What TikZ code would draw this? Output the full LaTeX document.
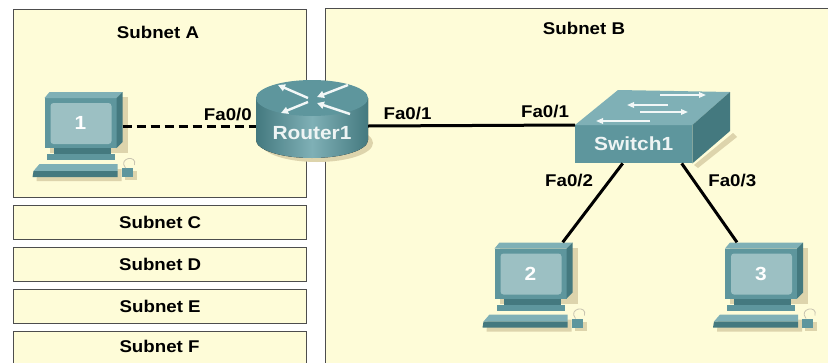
\documentclass[tikz,border=0pt]{standalone}
\usepackage{fontspec}
\usetikzlibrary{positioning,arrows.meta}
\newfontfamily\netfont{Liberation Sans}[FakeStretch=1.1]
\newcommand\subfont{\netfont\bfseries\fontsize{17}{20}\selectfont}
\newcommand\devfont{\netfont\bfseries\fontsize{19}{22}\selectfont}
\definecolor{cream}{HTML}{FEFCD8}
\definecolor{edgegray}{HTML}{4D4D4D}
\definecolor{tealmd}{HTML}{5E969D}
\definecolor{tealtop}{HTML}{7FB0B6}
\definecolor{tealdk}{HTML}{44797F}
\definecolor{screenteal}{HTML}{9CC0C3}
\definecolor{shadowtan}{HTML}{DDD4AC}
\definecolor{devwhite}{HTML}{EEF4F4}
\definecolor{arrowwhite}{HTML}{F2F7F7}
\definecolor{cablegray}{HTML}{C9C4B0}

\newcommand\pcicon[3]{%
	\begin{scope}[shift={(#2)}]
		\fill[shadowtan] (-34,-23) rectangle (44,33);
		\fill[shadowtan] (-46,49) -- (38,49) -- (38,61) -- (-47,61) -- cycle;
		\fill[shadowtan] (41,51) rectangle (53,60);
		\fill[tealmd] (-39,-22) rectangle (33,28);
		\fill[tealtop] (-39,-22) -- (-34,-28) -- (39,-28) -- (33,-22) -- cycle;
		\fill[tealdk] (33,-22) -- (39,-28) -- (39,22) -- (33,28) -- cycle;
		\fill[screenteal, rounded corners=3pt] (-33,-17) rectangle (28,24);
		\fill[tealdk] (-30,28) rectangle (27,34);
		\fill[tealmd] (-37,34) rectangle (31,40);
		\fill[tealtop] (-44,44) -- (34,44) -- (34,51) -- (-50,51) -- cycle;
		\fill[tealdk] (-50,51) -- (34,51) -- (34,57) -- (-51,57) -- cycle;
		\fill[tealmd] (38,48) rectangle (49,57);
		\draw[cable] (42,48) .. controls (34,38) and (54,34) .. (51,45);
		\node[pcnum] (#1-num) at (-3,3) {#3};
		\node[pcbox] (#1) at (0,0) {};
	\end{scope}}

\begin{document}
\begin{tikzpicture}[x=1pt, y=-1pt,
	subnet/.style={draw=edgegray, line width=1.4pt, fill=cream, inner sep=0pt, font=\subfont},
	subtitle/.style={font=\subfont, inner sep=1pt},
	portlbl/.style={font=\subfont, inner sep=1pt},
	devtext/.style={font=\devfont, text=devwhite, inner sep=0pt},
	pcbox/.style={minimum width=78pt, minimum height=56pt, inner sep=0pt},
	pcnum/.style={font=\devfont, text=white, inner sep=0pt},
	link/.style={line width=3pt},
	swarrow/.style={draw=arrowwhite, line width=1.6pt, -{Triangle[length=7pt, width=5.5pt]}},
	rtarrow/.style={draw=arrowwhite, line width=2.4pt, -{Triangle[length=7pt, width=7pt]}},
	cable/.style={draw=cablegray, line width=.8pt}]
	\useasboundingbox (0,0) rectangle (828,362);
	\clip (0,0) rectangle (828,362);
	\fill[white] (0,0) rectangle (828,362);

	\node[subnet, minimum width=293pt, minimum height=188pt, anchor=north west] (subA) at (13,9) {};
	\node[subnet, minimum width=520pt, minimum height=370pt, anchor=north west] (subB) at (325,8) {};
	\node[subnet, minimum width=293pt, minimum height=34pt, anchor=north west] (subC) at (13,205) {Subnet C};
	\node[subnet, minimum width=293pt, minimum height=34pt, anchor=north west] (subD) at (13,247) {Subnet D};
	\node[subnet, minimum width=293pt, minimum height=34pt, anchor=north west] (subE) at (13,289) {Subnet E};
	\node[subnet, minimum width=293pt, minimum height=40pt, anchor=north west] (subF) at (13,331) {};
	\node[subtitle] (labA) at (158,32) {Subnet A};
	\node[subtitle] (labB) at (584,28) {Subnet B};
	\node[subtitle] (labF) at (159.5,346) {Subnet F};

	\fill[shadowtan] (317,143) ellipse[x radius=56, y radius=19];
	\fill[left color=tealdk, right color=tealdk, middle color=tealtop] (256,98) -- (256,140) arc[start angle=180, end angle=0, x radius=56, y radius=18] -- (368,98) -- cycle;
	\fill[tealmd] (312,98) ellipse[x radius=56, y radius=18];
	\draw[rtarrow] (308,98) -- (278,85);
	\draw[rtarrow] (308,102) -- (281,113);
	\draw[rtarrow] (348,85) -- (317,97);
	\draw[rtarrow] (350,114) -- (317,103);
	\node[minimum width=112pt, minimum height=64pt, inner sep=0pt] (r1) at (312,126) {};
	\node[devtext] (r1-lbl) at (312,133) {Router1};

	\fill[shadowtan] (694,165) -- (733,133) -- (737,137) -- (698,168) -- cycle;
	\node[devtext, fill=tealmd, minimum width=117pt, minimum height=38pt, anchor=north west] (sw1) at (575,125) {Switch1};
	\fill[tealtop] (sw1.north west) -- (618,90) -- (730,92) -- (sw1.north east) -- cycle;
	\fill[tealdk] (sw1.north east) -- (730,92) -- (730,131) -- (sw1.south east) -- cycle;
	\draw[swarrow] (660,95) -- (706,95);
	\draw[swarrow] (668,105) -- (627,105);
	\draw[swarrow] (640,112) -- (688,112);
	\draw[swarrow] (650,121) -- (596,121);

	\pcicon{pc1}{83.5,120}{1}
	\pcicon{pc2}{533.5,270.5}{2}
	\pcicon{pc3}{764,270.5}{3}

	\draw[link, dash pattern=on 9pt off 5pt] (pc1.east |- r1) -- (r1.west)
		node[portlbl, pos=.79, above=3pt] {Fa0/0};
	\draw[link] (r1.east) -- (sw1.north west)
		node[portlbl, pos=.19, above=3pt] {Fa0/1}
		node[portlbl, pos=.855, above=5pt] {Fa0/1};
	\draw[link] ([xshift=-11pt]sw1.south) -- ([xshift=-10pt]pc2.north east)
		node[portlbl, pos=.22, left=14pt] {Fa0/2};
	\draw[link] ([xshift=48pt]sw1.south) -- ([xshift=-27pt]pc3.north)
		node[portlbl, pos=.22, right=12pt] {Fa0/3};
\end{tikzpicture}
\end{document}
